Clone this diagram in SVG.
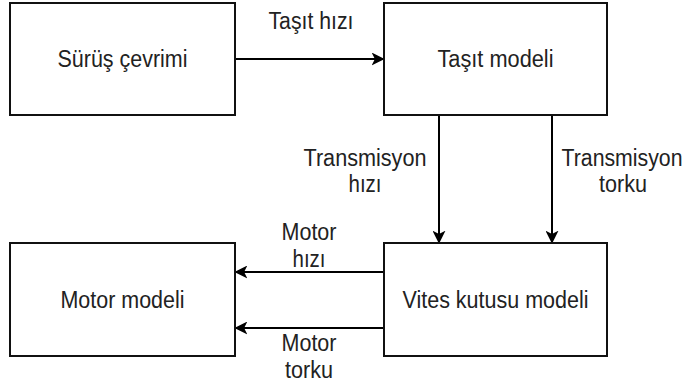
<svg xmlns="http://www.w3.org/2000/svg" width="692" height="383" viewBox="0 0 692 383">
<defs>
<style>
.box{fill:#fff;stroke:#111;stroke-width:2}
.t{font-family:"Liberation Sans",Arial,sans-serif;font-size:23px;fill:#222;text-anchor:middle}
.c{stroke:#000;stroke-width:2;fill:none;marker-end:url(#ah)}
</style>
<marker id="ah" viewBox="0 0 10 10" refX="9.5" refY="5" markerWidth="6.5" markerHeight="6.5" markerUnits="strokeWidth" orient="auto">
<path d="M0,0 L10,5 L0,10 L2.5,5 Z" fill="#000"/>
</marker>
</defs>
<rect width="692" height="383" fill="#fff"/>
<g id="connectors">
<line class="c" x1="235" y1="59" x2="384" y2="59"/>
<line class="c" x1="439" y1="115" x2="439" y2="243"/>
<line class="c" x1="552" y1="115" x2="552" y2="243"/>
<line class="c" x1="384" y1="272" x2="235" y2="272"/>
<line class="c" x1="384" y1="328" x2="235" y2="328"/>
<text class="t" x="311" y="29" textLength="85" lengthAdjust="spacingAndGlyphs">Taşıt hızı</text>
<text class="t" x="365" y="166" textLength="123" lengthAdjust="spacingAndGlyphs">Transmisyon</text>
<text class="t" x="365" y="192" textLength="33" lengthAdjust="spacingAndGlyphs">hızı</text>
<text class="t" x="622" y="166" textLength="121" lengthAdjust="spacingAndGlyphs">Transmisyon</text>
<text class="t" x="623" y="192" textLength="48" lengthAdjust="spacingAndGlyphs">torku</text>
<text class="t" x="309" y="240" textLength="55" lengthAdjust="spacingAndGlyphs">Motor</text>
<text class="t" x="309" y="267" textLength="33" lengthAdjust="spacingAndGlyphs">hızı</text>
<text class="t" x="309" y="351" textLength="55" lengthAdjust="spacingAndGlyphs">Motor</text>
<text class="t" x="309" y="378" textLength="48" lengthAdjust="spacingAndGlyphs">torku</text>
</g>
<g id="surus">
<rect class="box" x="10" y="3" width="225" height="112"/>
<text class="t" x="122.5" y="67" textLength="130" lengthAdjust="spacingAndGlyphs">Sürüş çevrimi</text>
</g>
<g id="tasit">
<rect class="box" x="384" y="3" width="223" height="112"/>
<text class="t" x="495.5" y="67" textLength="116" lengthAdjust="spacingAndGlyphs">Taşıt modeli</text>
</g>
<g id="motor">
<rect class="box" x="10" y="243" width="225" height="113"/>
<text class="t" x="122.5" y="308" textLength="124" lengthAdjust="spacingAndGlyphs">Motor modeli</text>
</g>
<g id="vites">
<rect class="box" x="384" y="243" width="223" height="113"/>
<text class="t" x="495.5" y="308" textLength="186" lengthAdjust="spacingAndGlyphs">Vites kutusu modeli</text>
</g>
</svg>
